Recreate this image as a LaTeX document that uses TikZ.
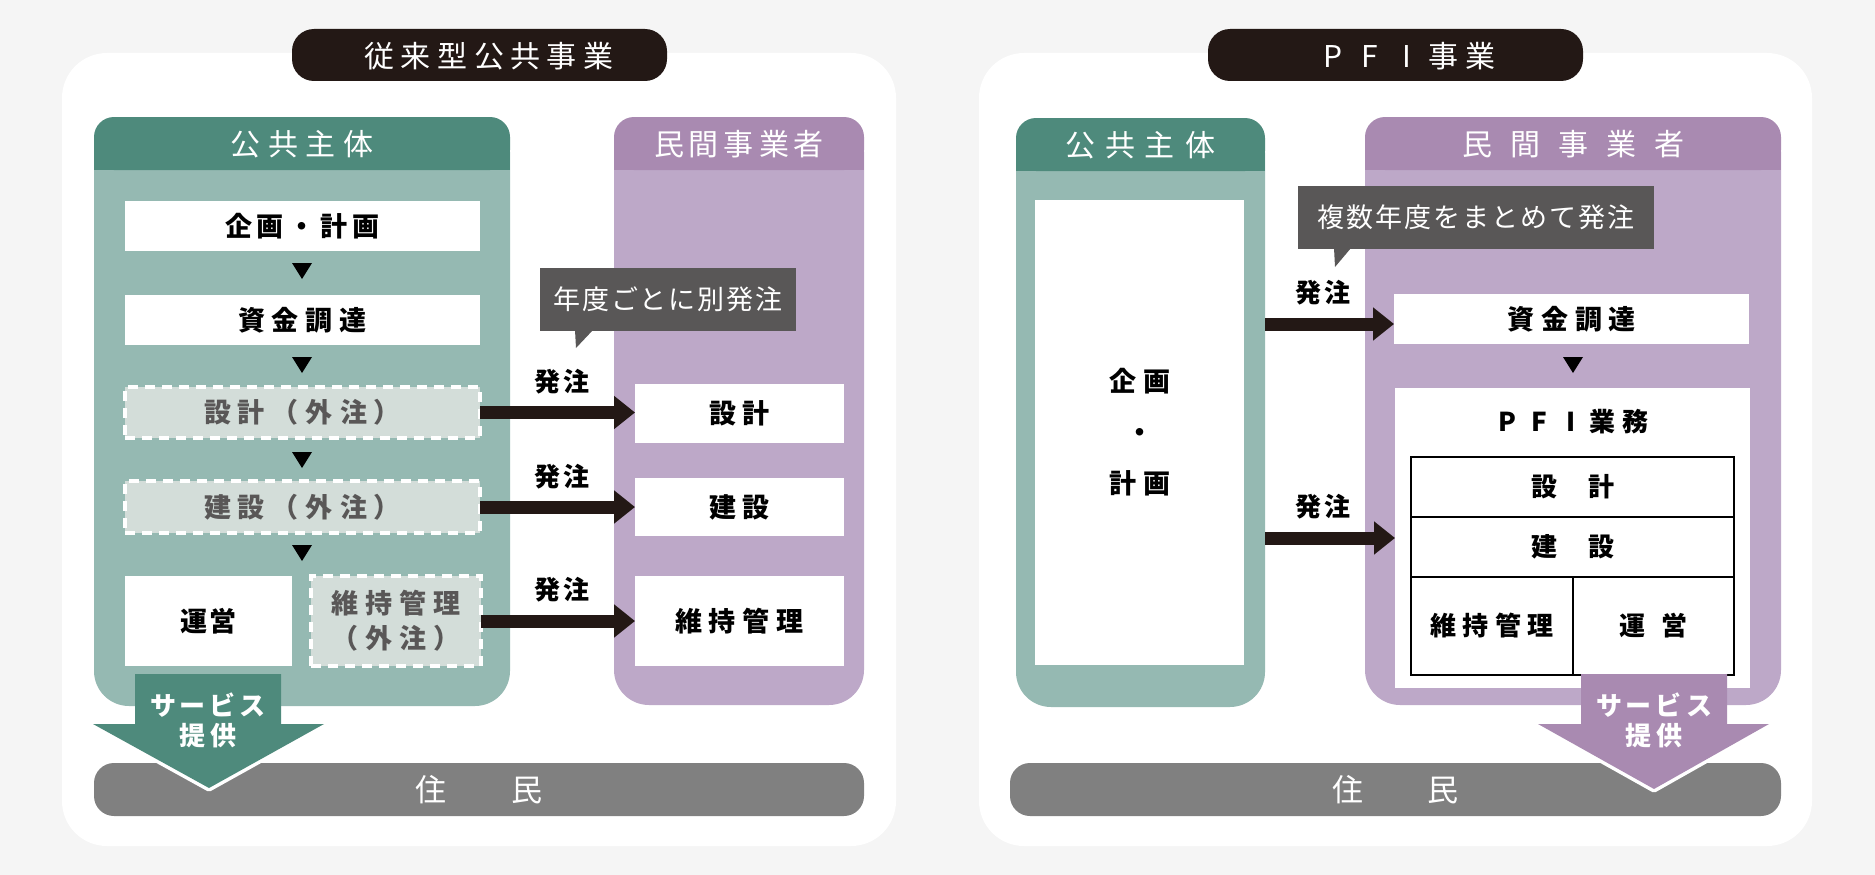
\documentclass[tikz,border=0pt]{standalone}
\usepackage{fontspec}
\setmainfont{Noto Sans CJK JP}
\usetikzlibrary{arrows.meta}
\definecolor{bgc}{HTML}{F5F5F5}
\definecolor{titlec}{HTML}{231815}
\definecolor{teald}{HTML}{4E8A7C}
\definecolor{teall}{HTML}{95B9B2}
\definecolor{purd}{HTML}{A98AB1}
\definecolor{purl}{HTML}{BDA8C8}
\definecolor{dashf}{HTML}{D3DDD9}
\definecolor{graytxt}{HTML}{595757}
\definecolor{callc}{HTML}{595757}
\definecolor{barc}{HTML}{808080}
\makeatletter
\newcommand{\spc}[2]{\def\spc@amt{#1}\@tfor\spc@c:=#2\do{\spc@c\hspace{\spc@amt}}\unskip}
\makeatother
\newcommand{\fsz}[2]{\fontsize{#1}{#2}\selectfont}
\newcommand{\cellbox}[2]{\makebox[#1][c]{#2}}
\newcommand{\tri}[2]{\fill[black] (#1-10,#2) -- (#1+10,#2) -- (#1,#2+16) -- cycle;}
\tikzset{
  every node/.style={inner sep=0pt, outer sep=0pt},
  wbox/.style={fill=white, font=\bfseries\fsz{27}{30}},
  dbox/.style={fill=dashf, draw=white, line width=3.5pt, dash pattern=on 10pt off 7pt, text=graytxt, font=\bfseries\fsz{27}{35}, align=center},
  hdr/.style={text=white, font=\fsz{30}{34}},
  ttl/.style={text=white, font=\fsz{30}{34}},
  lab/.style={text=black, font=\bfseries\fsz{26}{30}},
  callbox/.style={fill=callc, text=white, font=\fsz{27}{30}},
  cell/.style={draw=black, line width=2.7pt, fill=white, font=\bfseries\fsz{26}{30}},
  ordarrow/.style={draw=titlec, line width=13pt, -{Triangle[length=21pt,width=32pt]}},
  svc/.style={text=white, font=\bfseries\fsz{26}{30}, align=center},
  barbox/.style={fill=barc, rounded corners=20pt, text=white, font=\fsz{31}{34}}
}
\begin{document}
\begin{tikzpicture}[x=1pt,y=-1pt]
\useasboundingbox (0,0) rectangle (1875,875);
\fill[bgc] (0,0) rectangle (1875,875);
% white panels
\fill[white, rounded corners=45pt] (62,53) rectangle (896,846);
\fill[white, rounded corners=45pt] (979,53) rectangle (1812,846);
% titles
\fill[titlec, rounded corners=22pt] (292,29) rectangle (667,81);
\node[ttl] (t1) at (489,56) {\spc{6.5pt}{従来型公共事業}};
\fill[titlec, rounded corners=22pt] (1208,29) rectangle (1583,81);
\node[ttl] (t2) at (1407,56) {\cellbox{37pt}{P}\cellbox{37pt}{F}\cellbox{37pt}{I}\cellbox{37pt}{事}\cellbox{37pt}{業}};

% ===== LEFT PANEL =====
\fill[teall, rounded corners=35pt] (94,117) rectangle (510,706);
\fill[teald, rounded corners=20pt] (94,117) rectangle (510,170);
\fill[teald] (94,150) rectangle (510,170);
\node[hdr] (lh1) at (302,144) {\spc{7.5pt}{公共主体}};
\fill[purl, rounded corners=35pt] (614,117) rectangle (864,705);
\fill[purd, rounded corners=20pt] (614,117) rectangle (864,170);
\fill[purd] (614,150) rectangle (864,170);
\node[hdr] (lh2) at (739,144) {\spc{5pt}{民間事業者}};

\node[wbox, minimum width=355pt, minimum height=50pt] (a1) at (302.5,226) {\spc{5pt}{企画・計画}};
\tri{302}{263}
\node[wbox, minimum width=355pt, minimum height=50pt] (a2) at (302.5,320) {\spc{7pt}{資金調達}};
\tri{302}{357}
\node[dbox, minimum width=355pt, minimum height=51pt] (a3) at (302.5,412.5) {\spc{7pt}{設計（外注）}};
\tri{302}{452}
\node[dbox, minimum width=355pt, minimum height=52pt] (a4) at (302.5,507) {\spc{7pt}{建設（外注）}};
\tri{302}{545}
\node[wbox, minimum width=167pt, minimum height=90pt] (a5) at (208.5,621) {\spc{2pt}{運営}};
\node[dbox, minimum width=170pt, minimum height=90pt] (a6) at (396,621) {\spc{7pt}{維持管理}\\\spc{7pt}{（外注）}};

\node[wbox, minimum width=209pt, minimum height=59pt] (p1) at (739.5,413.5) {\spc{6pt}{設計}};
\node[wbox, minimum width=209pt, minimum height=58pt] (p2) at (739.5,507) {\spc{7pt}{建設}};
\node[wbox, minimum width=209pt, minimum height=90pt] (p3) at (739.5,621) {\spc{7pt}{維持管理}};

\draw[ordarrow] (a3.east) -- (a3.east -| p1.west);
\draw[ordarrow] (a4.east) -- (a4.east -| p2.west);
\draw[ordarrow] (a6.east) -- (a6.east -| p3.west);
\node[lab] (o1) at (562,382) {\spc{3pt}{発注}};
\node[lab] (o2) at (562,477) {\spc{3pt}{発注}};
\node[lab] (o3) at (562,590) {\spc{3pt}{発注}};

\node[callbox, minimum width=256pt, minimum height=63pt] (cl1) at (668,299.5) {\spc{2pt}{年度ごとに別発注}};
\fill[callc] (575,330) -- (576,348) -- (593,330) -- cycle;

\node[barbox, minimum width=770pt, minimum height=53pt] (r1) at (479,789.5) {住\hspace{65pt}民};
\filldraw[white, line width=7pt, line join=round] (93,724) -- (209,788) -- (324,724) -- cycle;
\fill[teald] (135,674) -- (281,674) -- (281,724) -- (324,724) -- (209,788) -- (93,724) -- (135,724) -- cycle;
\node[svc] (sv1) at (208,720) {\spc{4pt}{サービス}\\\spc{5pt}{提供}};

% ===== RIGHT PANEL =====
\fill[teall, rounded corners=35pt] (1016,118) rectangle (1265,707);
\fill[teald, rounded corners=20pt] (1016,118) rectangle (1265,171);
\fill[teald] (1016,150) rectangle (1265,171);
\node[hdr] (rh1) at (1140,145) {\spc{10pt}{公共主体}};
\fill[purl, rounded corners=35pt] (1365,117) rectangle (1781,705);
\fill[purd, rounded corners=20pt] (1365,117) rectangle (1781,170);
\fill[purd] (1365,150) rectangle (1781,170);
\node[hdr] (rh2) at (1573,144) {\spc{18pt}{民間事業者}};

\node[wbox, minimum width=209pt, minimum height=465pt, align=center, font=\bfseries\fsz{27}{51}] (kk) at (1139.5,432.5) {\spc{7pt}{企画}\\・\\\spc{7pt}{計画}};

\node[wbox, minimum width=355pt, minimum height=50pt] (sk) at (1571.5,319) {\spc{7pt}{資金調達}};
\tri{1573}{357}
\node[fill=white, minimum width=355pt, minimum height=300pt] (pf) at (1572.5,538) {};
\node[lab] (pft) at (1571,422) {\cellbox{32pt}{P}\cellbox{32pt}{F}\cellbox{32pt}{I}\cellbox{32pt}{業}\cellbox{32pt}{務}};
\node[cell, minimum width=323pt, minimum height=60pt] (c1) at (1572.5,487) {\spc{31pt}{設計}};
\node[cell, minimum width=323pt, minimum height=60pt] (c2) at (1572.5,547) {\spc{31pt}{建設}};
\node[cell, minimum width=162pt, minimum height=98pt] (c3) at (1492,626) {\spc{6.5pt}{維持管理}};
\node[cell, minimum width=161pt, minimum height=98pt] (c4) at (1653.5,626) {\spc{17pt}{運営}};

\coordinate (s1) at (1265,324);
\coordinate (s2) at (1265,538);
\draw[ordarrow] (s1) -- (s1 -| sk.west);
\draw[ordarrow] (s2) -- (s2 -| pf.west);
\node[lab] (o4) at (1323,293) {\spc{3pt}{発注}};
\node[lab] (o5) at (1323,507) {\spc{3pt}{発注}};

\node[callbox, minimum width=356pt, minimum height=63pt] (cl2) at (1476,217.5) {\spc{2pt}{複数年度をまとめて発注}};
\fill[callc] (1334,248) -- (1335,267) -- (1351,248) -- cycle;

\node[barbox, minimum width=771pt, minimum height=53pt] (r2) at (1395.5,789.5) {住\hspace{65pt}民};
\filldraw[white, line width=7pt, line join=round] (1538,724) -- (1654,789) -- (1769,724) -- cycle;
\fill[purd] (1581,674) -- (1727,674) -- (1727,724) -- (1769,724) -- (1654,789) -- (1538,724) -- (1581,724) -- cycle;
\node[svc] (sv2) at (1654,720) {\spc{4pt}{サービス}\\\spc{5pt}{提供}};
\end{tikzpicture}
\end{document}
